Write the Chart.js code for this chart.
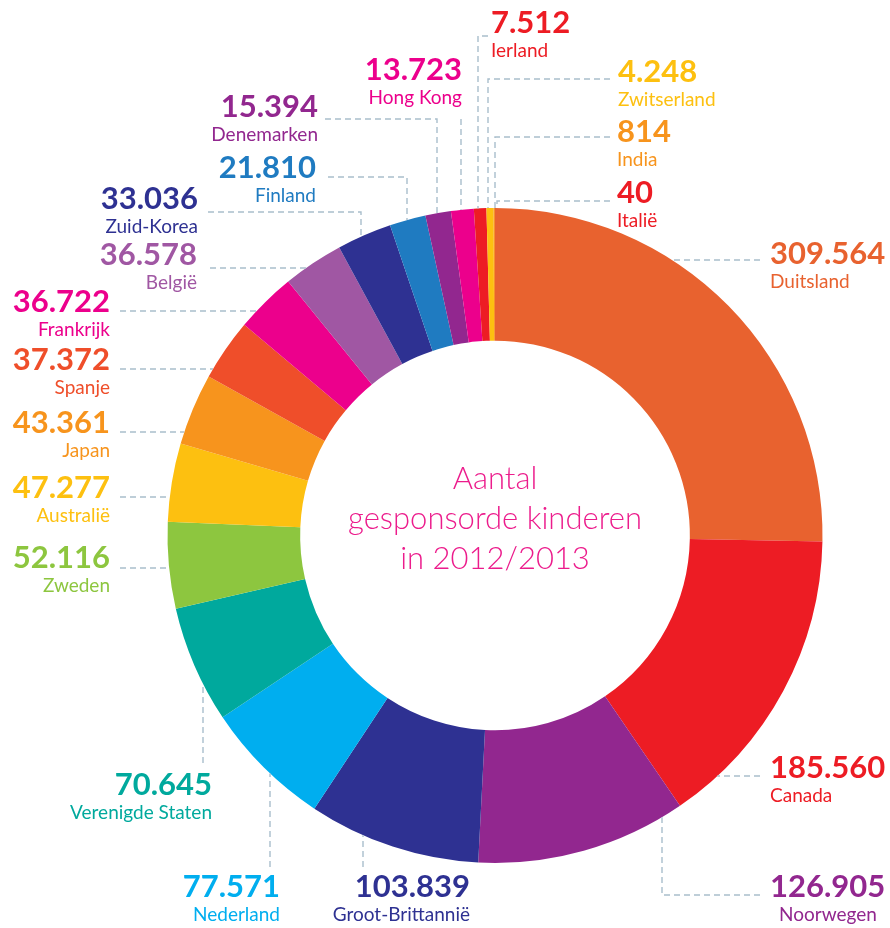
<!DOCTYPE html>
<html>
<head>
<meta charset="utf-8">
<script src="https://cdn.jsdelivr.net/npm/chart.js@4.4.0/dist/chart.umd.min.js"></script>
<style>
  html, body { margin: 0; padding: 0; background: #fff; }
  #wrap { width: 890px; height: 928px; position: relative; }
</style>
</head>
<body>
<div id="wrap"><canvas id="sponsorChart" width="890" height="928"></canvas></div>
<script>
// slices, clockwise from 12 o'clock
const countries = ['Duitsland', 'Canada', 'Noorwegen', 'Groot-Brittannië', 'Nederland', 'Verenigde Staten',
  'Zweden', 'Australië', 'Japan', 'Spanje', 'Frankrijk', 'België', 'Zuid-Korea', 'Finland',
  'Denemarken', 'Hong Kong', 'Ierland', 'Zwitserland', 'India', 'Italië'];
const children = [309564, 185560, 126905, 103839, 77571, 70645, 52116, 47277, 43361, 37372,
  36722, 36578, 33036, 21810, 15394, 13723, 7512, 4248, 814, 40];
const colors = ['#E8622F', '#ED1C24', '#92278F', '#2E3192', '#00AEEF', '#00A99D', '#8DC63F', '#FDC010',
  '#F7941D', '#EF4E2A', '#EC008C', '#A057A3', '#2E3192', '#1F7BC1', '#92278F', '#EC008C', '#ED1C24',
  '#FDC010', '#F7941D', '#ED1C24'];
const centerLines = ['Aantal', 'gesponsorde kinderen', 'in 2012/2013'];

// label placement: anchor x, value baseline y, alignment, and the leader path
// lead: ['h', y, x0] horizontal to the ring; ['v', x, y0] vertical to the ring;
//       ['hv', y, x0, x1] horizontal then vertical to the ring
const labelLayout = [
  { x: 770, y: 264, align: 'left', lead: ['h', 260, 760] },
  { x: 770, y: 778, align: 'left', lead: ['h', 776, 760] },
  { x: 770, y: 897, align: 'left', nameX: 779, lead: ['hv', 895, 760, 662] },
  { x: 470, y: 897, align: 'right', lead: ['v', 363, 867] },
  { x: 280, y: 897, align: 'right', lead: ['v', 270, 867] },
  { x: 212, y: 795, align: 'right', lead: ['v', 203, 763] },
  { x: 110, y: 568, align: 'right', lead: ['h', 568, 120] },
  { x: 110, y: 498, align: 'right', lead: ['h', 497, 120] },
  { x: 110, y: 433, align: 'right', lead: ['h', 432, 120] },
  { x: 110, y: 370, align: 'right', lead: ['h', 369, 120] },
  { x: 110, y: 312, align: 'right', lead: ['h', 311, 120] },
  { x: 197, y: 265, align: 'right', lead: ['h', 268, 210] },
  { x: 198, y: 209, align: 'right', lead: ['hv', 212, 208, 361] },
  { x: 316, y: 178, align: 'right', lead: ['hv', 177, 328, 407] },
  { x: 318, y: 117, align: 'right', lead: ['hv', 119, 325, 437] },
  { x: 462, y: 80, align: 'right', lead: ['v', 461, 119] },
  { x: 491, y: 33, align: 'left', lead: ['hv', 36, 488, 478] },
  { x: 618, y: 82, align: 'left', lead: ['hv', 79, 610, 488] },
  { x: 617, y: 142, align: 'left', lead: ['hv', 137, 610, 495] },
  { x: 617, y: 203, align: 'left', lead: ['hv', 201, 610, 497] }
];

function formatNL(n) {
  return String(n).replace(/\B(?=(\d{3})+(?!\d))/g, '.');
}

const labelPlugin = {
  id: 'leaderLabels',
  afterDraw(chart) {
    const arc = chart.getDatasetMeta(0).data[0];
    const cx = arc.x, cy = arc.y, R = arc.outerRadius;
    const ctx = chart.ctx;

    // point on the outer ring for a given y (left/right side) or x (top/bottom)
    const ringX = (y, side) => cx + side * Math.sqrt(Math.max(0, R * R - (y - cy) * (y - cy)));
    const ringY = (x, side) => cy + side * Math.sqrt(Math.max(0, R * R - (x - cx) * (x - cx)));

    ctx.save();
    ctx.strokeStyle = '#A9BECC';
    ctx.lineWidth = 1.4;
    ctx.setLineDash([6, 4]);
    labelLayout.forEach(l => {
      const p = l.lead;
      ctx.beginPath();
      if (p[0] === 'h') {
        const side = p[2] > cx ? 1 : -1;
        ctx.moveTo(p[2], p[1]);
        ctx.lineTo(ringX(p[1], side), p[1]);
      } else if (p[0] === 'v') {
        const side = p[2] > cy ? 1 : -1;
        ctx.moveTo(p[1], p[2]);
        ctx.lineTo(p[1], ringY(p[1], side));
      } else {
        const side = p[1] > cy ? 1 : -1;
        ctx.moveTo(p[2], p[1]);
        ctx.lineTo(p[3], p[1]);
        ctx.lineTo(p[3], ringY(p[3], side));
      }
      ctx.stroke();
    });
    ctx.setLineDash([]);

    labelLayout.forEach((l, i) => {
      ctx.fillStyle = colors[i];
      ctx.textAlign = l.align;
      ctx.textBaseline = 'alphabetic';
      ctx.font = 'bold 31px Lato';
      ctx.fillText(formatNL(children[i]), l.x, l.y);
      ctx.font = '19px Lato';
      ctx.fillText(countries[i], l.nameX || l.x, l.y + 24);
    });

    // text in the hole
    ctx.fillStyle = '#EC1C8C';
    ctx.textAlign = 'center';
    ctx.font = '300 31px Lato';
    centerLines.forEach((t, k) => {
      ctx.fillText(t, cx, 489 + k * 40);
    });
    ctx.restore();
  }
};

new Chart(document.getElementById('sponsorChart'), {
  type: 'doughnut',
  data: {
    labels: countries,
    datasets: [{
      data: children,
      backgroundColor: colors,
      borderWidth: 0,
      hoverOffset: 0
    }]
  },
  options: {
    responsive: false,
    animation: false,
    cutout: '59.5%',
    layout: { padding: { left: 167.5, right: 67.5, top: 208, bottom: 65 } },
    plugins: {
      legend: { display: false },
      tooltip: { enabled: false }
    }
  },
  plugins: [labelPlugin]
});
</script>
</body>
</html>
